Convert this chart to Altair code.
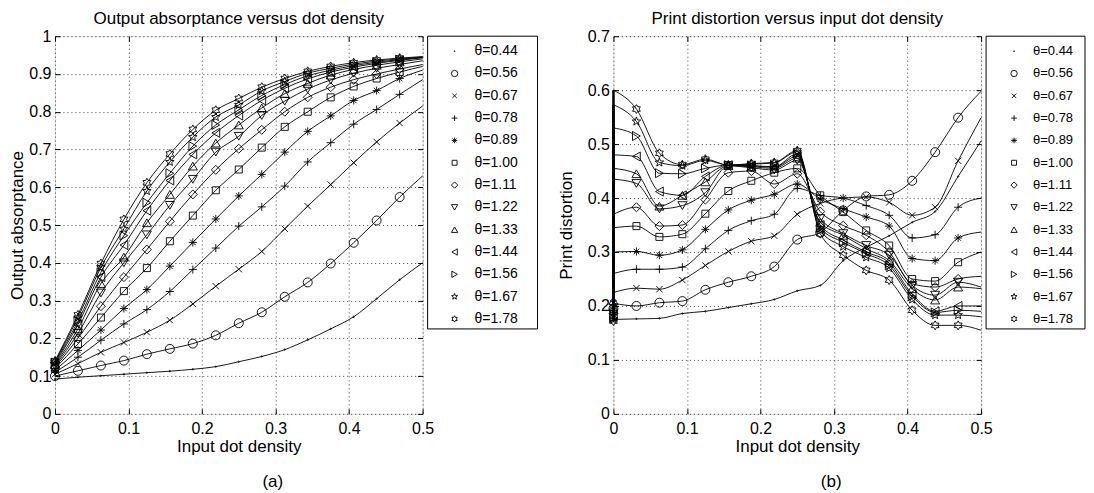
import math
import altair as alt
import pandas as pd

FONT = "Liberation Sans"

# x positions (input dot density)
x_vals = [0.0, 0.03125, 0.0625, 0.09375, 0.125, 0.15625, 0.1875, 0.21875, 0.25,
          0.28125, 0.3125, 0.34375, 0.375, 0.40625, 0.4375, 0.46875, 0.5]

theta_labels = ["θ=0.44", "θ=0.56", "θ=0.67", "θ=0.78", "θ=0.89", "θ=1.00", "θ=1.11",
                "θ=1.22", "θ=1.33", "θ=1.44", "θ=1.56", "θ=1.67", "θ=1.78"]

# ---- panel (a): output absorptance ----
a044 = [0.092, 0.097, 0.101, 0.105, 0.109, 0.113, 0.118, 0.125, 0.138, 0.152, 0.170, 0.196, 0.225, 0.257, 0.305, 0.355, 0.400]
a056 = [0.100, 0.114, 0.128, 0.141, 0.158, 0.172, 0.186, 0.208, 0.240, 0.269, 0.310, 0.348, 0.398, 0.453, 0.512, 0.574, 0.630]
a067 = [0.105, 0.133, 0.163, 0.189, 0.216, 0.248, 0.291, 0.338, 0.383, 0.430, 0.490, 0.550, 0.607, 0.665, 0.720, 0.770, 0.815]
a078 = [0.110, 0.150, 0.195, 0.238, 0.276, 0.324, 0.382, 0.439, 0.497, 0.548, 0.603, 0.667, 0.718, 0.767, 0.806, 0.846, 0.885]
a089 = [0.115, 0.168, 0.222, 0.279, 0.329, 0.391, 0.454, 0.516, 0.577, 0.634, 0.693, 0.748, 0.789, 0.830, 0.856, 0.888, 0.910]
a100 = [0.120, 0.185, 0.255, 0.325, 0.386, 0.457, 0.525, 0.592, 0.647, 0.705, 0.760, 0.800, 0.838, 0.867, 0.888, 0.905, 0.920]
a111 = [0.123, 0.200, 0.285, 0.362, 0.435, 0.510, 0.581, 0.646, 0.702, 0.752, 0.800, 0.838, 0.865, 0.885, 0.900, 0.913, 0.925]
a122 = [0.127, 0.213, 0.320, 0.400, 0.474, 0.552, 0.621, 0.693, 0.735, 0.790, 0.828, 0.860, 0.884, 0.902, 0.915, 0.925, 0.935]
a133 = [0.130, 0.225, 0.345, 0.415, 0.506, 0.581, 0.656, 0.717, 0.765, 0.810, 0.848, 0.875, 0.897, 0.912, 0.923, 0.932, 0.940]
a144 = [0.133, 0.237, 0.362, 0.447, 0.538, 0.618, 0.687, 0.744, 0.790, 0.830, 0.862, 0.887, 0.905, 0.918, 0.928, 0.936, 0.943]
a156 = [0.136, 0.245, 0.375, 0.472, 0.559, 0.637, 0.709, 0.765, 0.805, 0.843, 0.872, 0.895, 0.910, 0.922, 0.931, 0.938, 0.944]
a167 = [0.138, 0.255, 0.388, 0.490, 0.590, 0.667, 0.733, 0.786, 0.818, 0.855, 0.880, 0.902, 0.915, 0.926, 0.934, 0.940, 0.945]
a178 = [0.140, 0.262, 0.398, 0.515, 0.612, 0.688, 0.753, 0.804, 0.835, 0.865, 0.888, 0.907, 0.920, 0.930, 0.937, 0.942, 0.946]

# ---- panel (b): print distortion (curve values; first entry is curve start at x=0) ----
d044 = [0.175, 0.176, 0.177, 0.186, 0.190, 0.197, 0.204, 0.212, 0.228, 0.238, 0.284, 0.309, 0.330, 0.355, 0.375, 0.440, 0.506]
d056 = [0.205, 0.200, 0.206, 0.209, 0.230, 0.244, 0.255, 0.273, 0.323, 0.336, 0.377, 0.403, 0.406, 0.432, 0.485, 0.549, 0.598]
d067 = [0.225, 0.233, 0.231, 0.248, 0.275, 0.301, 0.320, 0.330, 0.370, 0.390, 0.400, 0.402, 0.392, 0.368, 0.383, 0.469, 0.549]
d078 = [0.260, 0.268, 0.268, 0.272, 0.306, 0.340, 0.358, 0.370, 0.418, 0.405, 0.400, 0.386, 0.368, 0.326, 0.332, 0.383, 0.400]
d089 = [0.300, 0.301, 0.294, 0.304, 0.342, 0.378, 0.396, 0.407, 0.426, 0.398, 0.380, 0.365, 0.348, 0.288, 0.284, 0.326, 0.337]
d100 = [0.345, 0.348, 0.328, 0.333, 0.371, 0.413, 0.432, 0.447, 0.455, 0.405, 0.374, 0.340, 0.312, 0.250, 0.246, 0.281, 0.300]
d111 = [0.370, 0.383, 0.348, 0.350, 0.397, 0.447, 0.450, 0.426, 0.445, 0.375, 0.349, 0.331, 0.300, 0.241, 0.235, 0.250, 0.255]
d122 = [0.435, 0.427, 0.380, 0.386, 0.410, 0.460, 0.456, 0.452, 0.470, 0.362, 0.334, 0.312, 0.294, 0.238, 0.220, 0.244, 0.235]
d133 = [0.455, 0.445, 0.385, 0.405, 0.430, 0.460, 0.458, 0.455, 0.474, 0.355, 0.331, 0.306, 0.284, 0.232, 0.211, 0.235, 0.232]
d144 = [0.480, 0.477, 0.412, 0.405, 0.440, 0.461, 0.460, 0.457, 0.478, 0.350, 0.322, 0.300, 0.280, 0.222, 0.190, 0.200, 0.200]
d156 = [0.530, 0.515, 0.446, 0.445, 0.455, 0.461, 0.460, 0.458, 0.482, 0.345, 0.318, 0.297, 0.275, 0.218, 0.188, 0.192, 0.190]
d167 = [0.573, 0.542, 0.466, 0.460, 0.470, 0.461, 0.463, 0.465, 0.486, 0.340, 0.310, 0.290, 0.270, 0.212, 0.183, 0.183, 0.180]
d178 = [0.600, 0.565, 0.483, 0.462, 0.472, 0.461, 0.464, 0.466, 0.488, 0.334, 0.294, 0.266, 0.248, 0.192, 0.164, 0.164, 0.155]

# marker values at x = 0 in panel (b)
d_marker0 = [0.172, 0.195, 0.205, 0.200, 0.192, 0.190, 0.186, 0.185, 0.210, 0.180, 0.178, 0.175, 0.172]

abs_series = [a044, a056, a067, a078, a089, a100, a111, a122, a133, a144, a156, a167, a178]
dist_series = [d044, d056, d067, d078, d089, d100, d111, d122, d133, d144, d156, d167, d178]

N_MARK = 16  # markers drawn at the first 16 x positions


def star_path(n, r_out, r_in):
    pts = []
    for i in range(2 * n):
        r = r_out if i % 2 == 0 else r_in
        ang = math.radians(-90 + i * 180.0 / n)
        pts.append(f"{r * math.cos(ang):.3f} {r * math.sin(ang):.3f}")
    return "M " + " L ".join(pts) + " Z"


shapes = [
    "M -0.15 0 A 0.15 0.15 0 1 0 0.15 0 A 0.15 0.15 0 1 0 -0.15 0 Z",  # point
    "circle",
    "M -0.7 -0.7 L 0.7 0.7 M -0.7 0.7 L 0.7 -0.7",  # x
    "M -0.9 0 L 0.9 0 M 0 -0.9 L 0 0.9",  # +
    "M -0.9 0 L 0.9 0 M 0 -0.9 L 0 0.9 M -0.62 -0.62 L 0.62 0.62 M -0.62 0.62 L 0.62 -0.62",  # *
    "M -0.78 -0.78 L 0.78 -0.78 L 0.78 0.78 L -0.78 0.78 Z",  # square
    "diamond",
    "triangle-down",
    "triangle-up",
    "triangle-left",
    "triangle-right",
    star_path(5, 1.0, 0.42),
    star_path(6, 1.0, 0.58),
]
SHAPE_SCALE = alt.Scale(domain=theta_labels, range=shapes)

# ---- build tables ----
line_a, pts_a, line_b, pts_b, rule_b = [], [], [], [], []
for lab, ya, yb, m0 in zip(theta_labels, abs_series, dist_series, d_marker0):
    for i, xv in enumerate(x_vals):
        line_a.append({"x": xv, "y": ya[i], "theta": lab})
        line_b.append({"x": xv, "y": yb[i], "theta": lab})
        if i < N_MARK:
            pts_a.append({"x": xv, "y": ya[i], "theta": lab})
            pts_b.append({"x": xv, "y": (m0 if i == 0 else yb[i]), "theta": lab})
    rule_b.append({"x": x_vals[0], "y": m0, "y2": yb[0], "theta": lab})

line_a, pts_a = pd.DataFrame(line_a), pd.DataFrame(pts_a)
line_b, pts_b, rule_b = pd.DataFrame(line_b), pd.DataFrame(pts_b), pd.DataFrame(rule_b)
legend_df = pd.DataFrame({"theta": theta_labels})

x_ticks = [0, 0.1, 0.2, 0.3, 0.4, 0.5]
y_ticks_a = [0, 0.1, 0.2, 0.3, 0.4, 0.5, 0.6, 0.7, 0.8, 0.9, 1]
y_ticks_b = [0, 0.1, 0.2, 0.3, 0.4, 0.5, 0.6, 0.7]

W, H = 368, 378
LEG_H = 293


def axis(title, values, label_pad=4, title_x=None):
    kw = dict(title=title, values=values, format="~g", grid=True, gridDash=[1, 3],
              gridColor="#000", gridOpacity=0.75, gridWidth=1, domain=False,
              ticks=False, labelFlush=False, labelFont=FONT, labelFontSize=16,
              labelColor="black", labelPadding=label_pad,
              titleFont=FONT, titleFontSize=17, titleFontWeight="normal",
              titleColor="black", titlePadding=2)
    if title_x is not None:
        kw["titleX"] = title_x
    return alt.Axis(**kw)


def tick_axis(values, orient):
    # inward tick marks (MATLAB style)
    return alt.Axis(orient=orient, values=values, offset=-5, tickSize=5, ticks=True,
                    tickColor="black", tickWidth=1, labels=False, domain=False,
                    grid=False, title=None)


def legend_layers(leg_w, font_size, sym_dx, lab_dx):
    x0 = W + 5
    Yl = alt.Y("theta:N", sort=theta_labels, axis=None,
               scale=alt.Scale(type="point", domain=theta_labels, padding=0,
                               range=[15, LEG_H - 10]))
    box = alt.Chart(pd.DataFrame({"box": [1]})).mark_rect(
        fill="white", stroke="black", strokeWidth=1).encode(
        x=alt.value(x0), x2=alt.value(x0 + leg_w), y=alt.value(0), y2=alt.value(LEG_H))
    syms = alt.Chart(legend_df).mark_point(color="black", filled=False, size=40,
                                           strokeWidth=0.9, opacity=1).encode(
        y=Yl, x=alt.value(x0 + sym_dx),
        shape=alt.Shape("theta:N", scale=SHAPE_SCALE, legend=None))
    labs = alt.Chart(legend_df).mark_text(font=FONT, fontSize=font_size, color="black",
                                          align="left", baseline="middle").encode(
        y=Yl, x=alt.value(x0 + lab_dx), text="theta:N")
    return [box, syms, labs]


def panel(lines_df, pts_df, ytitle, yticks, ymax, title, caption, leg, rule_df=None,
          ytitle_x=None):
    xs = alt.Scale(domain=[0, 0.5], nice=False)
    ys = alt.Scale(domain=[0, ymax], nice=False)
    X = alt.X("x:Q", scale=xs, axis=axis("Input dot density", x_ticks, label_pad=7))
    Y = alt.Y("y:Q", scale=ys, axis=axis(ytitle, yticks, title_x=ytitle_x))
    lines = alt.Chart(lines_df).mark_line(color="black", strokeWidth=0.9,
                                          interpolate="monotone").encode(
        x=X, y=Y, detail="theta:N")
    pts = alt.Chart(pts_df).mark_point(color="black", filled=False, size=81,
                                       strokeWidth=0.9, opacity=1).encode(
        x=alt.X("x:Q", scale=xs, axis=tick_axis(x_ticks, "bottom")),
        y=alt.Y("y:Q", scale=ys, axis=tick_axis(yticks, "left")),
        shape=alt.Shape("theta:N", scale=SHAPE_SCALE, legend=None))
    ghost = alt.Chart(pts_df).mark_point(opacity=0).encode(
        x=alt.X("x:Q", scale=xs, axis=tick_axis(x_ticks, "top")),
        y=alt.Y("y:Q", scale=ys, axis=tick_axis(yticks, "right")))
    cap_df = pd.DataFrame({"caption": [caption]})
    cap = alt.Chart(cap_df).mark_text(font=FONT, fontSize=17, color="black",
                                      baseline="middle").encode(
        text="caption:N", x=alt.value(218), y=alt.value(446))
    layers = [lines, pts, ghost]
    if rule_df is not None:
        rule = alt.Chart(rule_df).mark_rule(color="black", strokeWidth=2.5).encode(
            x=alt.X("x:Q", scale=xs, axis=None), y=alt.Y("y:Q", scale=ys, axis=None),
            y2="y2:Q")
        layers.append(rule)
    layers.append(cap)
    layers += leg
    return alt.layer(*layers).resolve_scale(y="independent").resolve_axis(
        x="independent", y="independent").properties(
        width=W, height=H,
        title=alt.TitleParams(title, font=FONT, fontSize=17, fontWeight="normal",
                              color="black", offset=0, anchor="middle", frame="group"))


left = panel(line_a, pts_a, "Output absorptance", y_ticks_a, 1,
             "Output absorptance versus dot density", "(a)", legend_layers(110, 14, 27, 47))
right = panel(line_b, pts_b, "Print distortion", y_ticks_b, 0.7,
              "Print distortion versus input dot density", "(b)",
              legend_layers(99, 13, 28, 47), rule_b, ytitle_x=-38)

chart = alt.hconcat(left, right, spacing=18).configure_view(
    stroke="black", strokeWidth=1).configure(
    padding={"left": 0, "top": 1, "right": 0, "bottom": 0}, background="white")

chart.save("out.html", embed_options={"renderer": "svg", "actions": False})
